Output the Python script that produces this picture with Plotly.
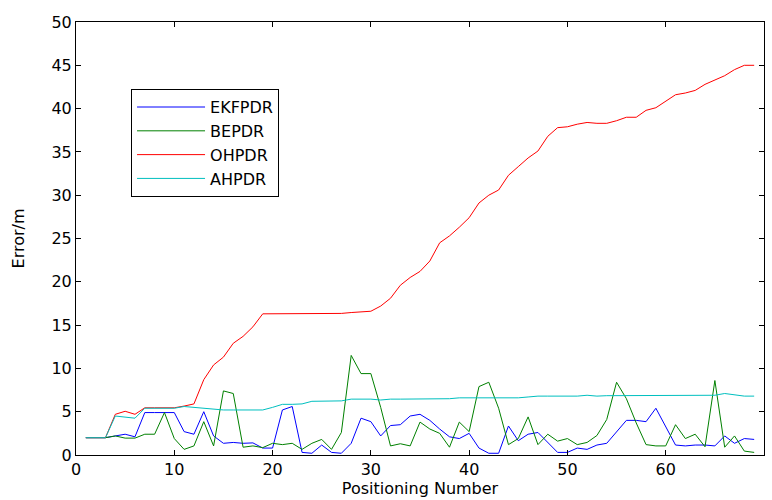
import plotly.graph_objects as go

positions = list(range(1, 70))

ekfpdr = [2, 2, 2, 2.2, 2.4, 2.1, 4.9, 4.9, 4.9, 4.9,
          2.7, 2.4, 5.0, 2.2, 1.35, 1.45, 1.35, 1.4, 0.8, 0.8,
          5.2, 5.6, 0.3, 0.2, 1.15, 0.3, 0.2, 1.35, 4.25, 3.85,
          2.2, 3.4, 3.5, 4.5, 4.7, 4.0, 3.0, 2.1, 1.9, 2.5,
          0.8, 0.2, 0.2, 3.35, 1.65, 2.4, 2.6, 1.5, 0.3, 0.3,
          0.8, 0.65, 1.15, 1.35, 2.7, 4.0, 4.0, 3.85, 5.4, 3.3,
          1.15, 1.05, 1.15, 1.15, 1.05, 2.2, 1.35, 1.9, 1.8]

bepdr = [2, 2, 2, 2.2, 1.95, 1.95, 2.4, 2.4, 4.9, 1.9,
         0.65, 1.05, 3.85, 1.05, 7.4, 7.1, 0.9, 1.05, 0.85, 1.35,
         1.2, 1.35, 0.65, 1.35, 1.8, 0.65, 2.6, 11.5, 9.4, 9.4,
         5.5, 1.05, 1.3, 1.05, 3.8, 3.0, 2.5, 0.9, 3.8, 2.7,
         7.9, 8.4, 5.4, 1.2, 1.9, 4.4, 1.2, 2.4, 1.6, 1.9,
         1.2, 1.45, 2.25, 4.1, 8.4, 6.5, 3.7, 1.2, 1.05, 1.05,
         3.5, 1.9, 2.4, 0.95, 8.6, 0.9, 2.2, 0.45, 0.3]

ohpdr = [2, 2, 2, 4.7, 5.05, 4.7, 5.45, 5.45, 5.45, 5.45,
         5.65, 5.9, 8.7, 10.4, 11.3, 12.9, 13.7, 14.8, 16.3, 16.3,
         16.3, 16.3, 16.3, 16.3, 16.3, 16.3, 16.35, 16.45, 16.5, 16.6,
         17.2, 18.1, 19.6, 20.5, 21.2, 22.4, 24.5, 25.3, 26.3, 27.4,
         29.1, 30.0, 30.6, 32.3, 33.3, 34.3, 35.1, 36.8, 37.8, 37.9,
         38.2, 38.4, 38.3, 38.3, 38.6, 39.0, 39.0, 39.8, 40.1, 40.8,
         41.6, 41.8, 42.1, 42.8, 43.3, 43.8, 44.5, 45.0, 45.0]

ahpdr = [2, 2, 2, 4.5, 4.4, 4.25, 5.4, 5.4, 5.4, 5.4,
         5.6, 5.5, 5.4, 5.25, 5.2, 5.2, 5.2, 5.2, 5.2, 5.5,
         5.85, 5.85, 5.9, 6.2, 6.2, 6.2, 6.25, 6.45, 6.45, 6.45,
         6.35, 6.45, 6.45, 6.45, 6.45, 6.45, 6.45, 6.5, 6.6, 6.6,
         6.6, 6.6, 6.6, 6.6, 6.6, 6.7, 6.8, 6.8, 6.8, 6.8,
         6.8, 6.9, 6.8, 6.85, 6.85, 6.85, 6.85, 6.85, 6.9, 6.9,
         6.9, 6.9, 6.9, 6.9, 6.9, 7.1, 6.95, 6.8, 6.8]

series = [
    ("EKFPDR", ekfpdr, "#0000FF"),
    ("BEPDR", bepdr, "#008000"),
    ("OHPDR", ohpdr, "#FF0000"),
    ("AHPDR", ahpdr, "#00BFBF"),
]

x_ticks = [0, 10, 20, 30, 40, 50, 60, 70]
y_ticks = [0, 5, 10, 15, 20, 25, 30, 35, 40, 45, 50]

fig = go.Figure()
for name, vals, color in series:
    fig.add_trace(go.Scatter(x=positions, y=vals, mode="lines", name=name,
                             line=dict(color=color, width=1)))

font_family = "DejaVu Sans, Liberation Sans, Arial, sans-serif"
axis_common = dict(
    showgrid=False, zeroline=False, showline=True, linecolor="black",
    linewidth=1, mirror="ticks", ticks="inside", ticklen=5, tickcolor="black",
    tickwidth=1, tickfont=dict(family=font_family, size=16, color="black"),
)

fig.update_layout(
    width=772, height=500,
    margin=dict(l=76, r=8, t=22, b=45),
    paper_bgcolor="white", plot_bgcolor="white",
    showlegend=True,
    legend=dict(x=0.08, y=0.845, xanchor="left", yanchor="top",
                bgcolor="white", bordercolor="black", borderwidth=1,
                font=dict(family=font_family, size=16, color="black"),
                itemwidth=68, tracegroupgap=0),
    xaxis=dict(range=[0, 70], tickvals=x_ticks, ticktext=[str(v) for v in x_ticks],
               title=dict(text="Positioning Number", standoff=2,
                          font=dict(family=font_family, size=16, color="black")),
               **axis_common),
    yaxis=dict(range=[0, 50], tickvals=y_ticks, ticktext=[str(v) for v in y_ticks],
               title=dict(text="Error/m", standoff=22,
                          font=dict(family=font_family, size=16, color="black")),
               **axis_common),
)

fig.write_html("out.html")
